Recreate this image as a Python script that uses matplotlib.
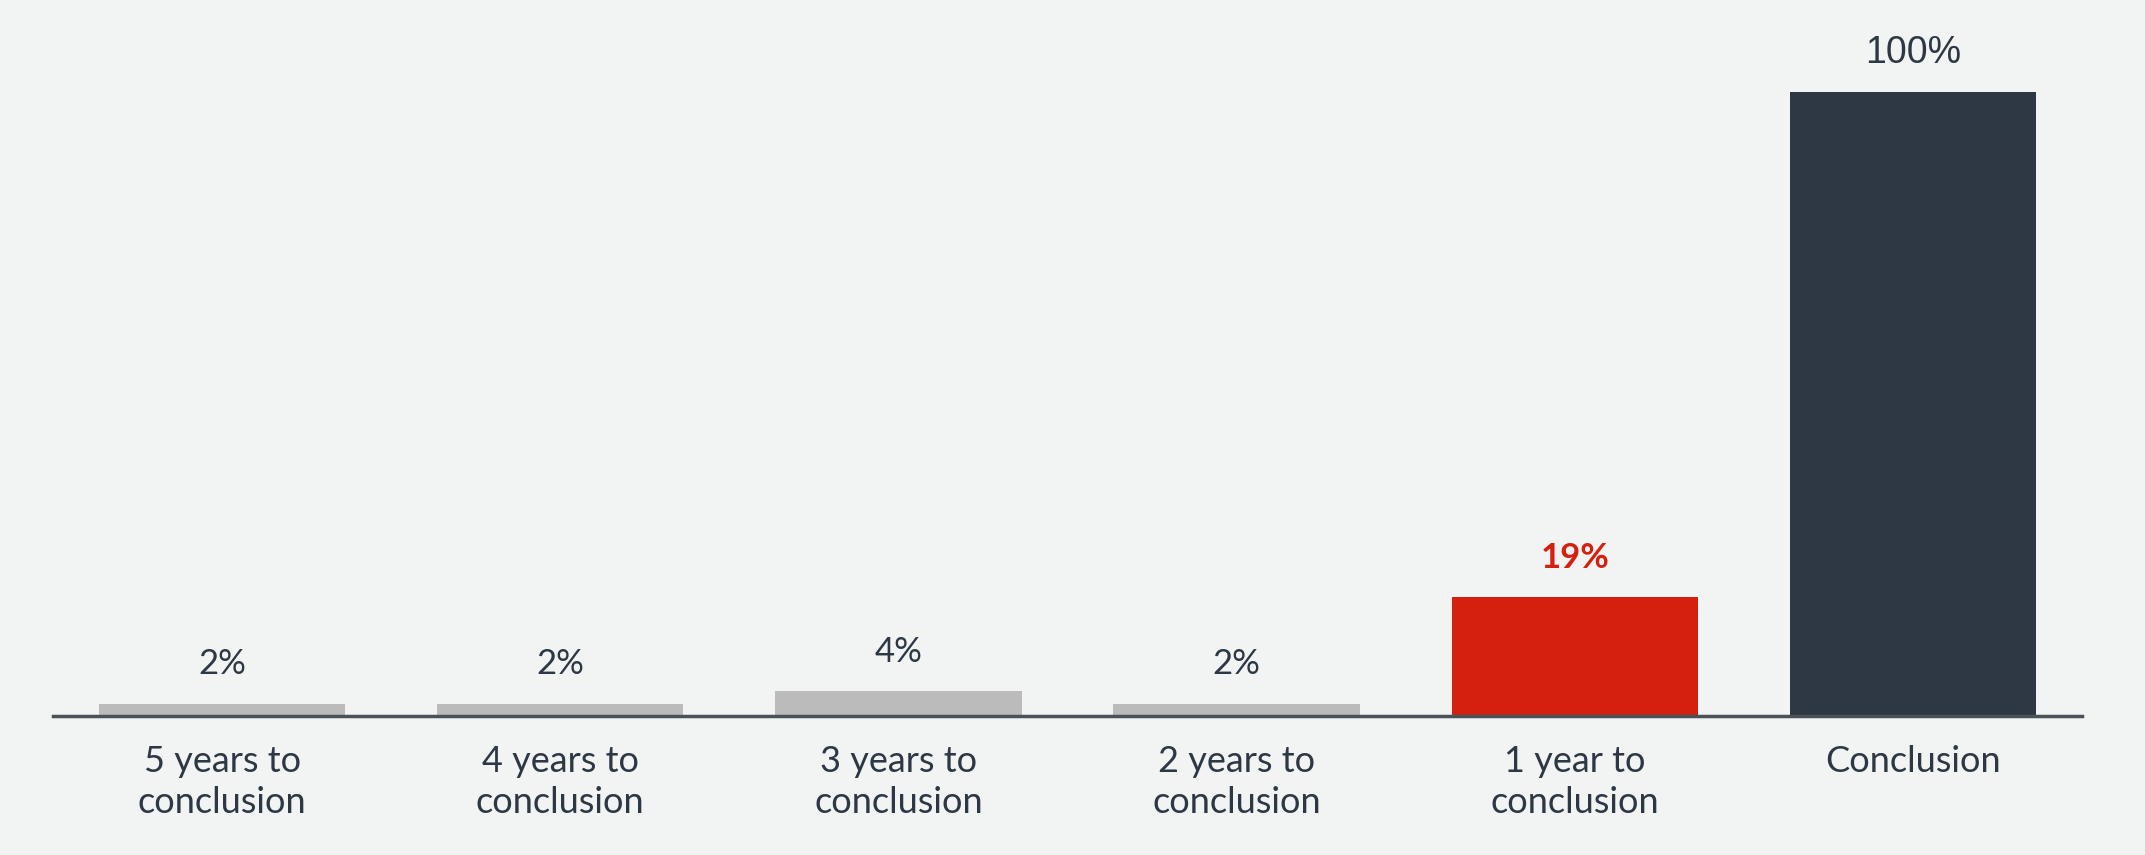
import matplotlib
matplotlib.use("Agg")
import matplotlib.pyplot as plt

categories = ["5 years to\nconclusion", "4 years to\nconclusion", "3 years to\nconclusion",
              "2 years to\nconclusion", "1 year to\nconclusion", "Conclusion"]
values = [2, 2, 4, 2, 19, 100]
labels = ["2%", "2%", "4%", "2%", "19%", "100%"]

BG = "#f2f4f4"
DARK = "#2d3844"
GRAY = "#bbbbbb"
RED = "#d52010"
colors = [GRAY, GRAY, GRAY, GRAY, RED, DARK]

fig = plt.figure(figsize=(21.45, 8.55), dpi=100, facecolor=BG)
ax = fig.add_axes([53 / 2145, (855 - 716) / 855, 2029 / 2145, 624 / 855])
ax.set_facecolor(BG)

x = list(range(len(values)))
ax.bar(x, values, width=0.728, color=colors, zorder=2)
ax.set_xlim(-0.5, 5.5)
ax.set_ylim(0, 100)

for s in ["top", "right", "left"]:
    ax.spines[s].set_visible(False)
ax.spines["bottom"].set_color("#4a5258")
ax.spines["bottom"].set_linewidth(2.5)
ax.spines["bottom"].set_zorder(3)
ax.set_yticks([])
ax.set_xticks(x)
ax.set_xticklabels(categories, fontsize=26, color=DARK, family=["Lato", "DejaVu Sans"],
                   linespacing=1.3)
ax.tick_params(axis="x", length=0, pad=21)

for i, (v, lab) in enumerate(zip(values, labels)):
    if i == 4:
        kw = dict(color=RED, fontweight="bold", family=["Lato", "DejaVu Sans"], fontsize=25)
    elif i == 5:
        kw = dict(color=DARK, family=["Liberation Sans Narrow", "Liberation Sans", "DejaVu Sans"], fontsize=27)
    else:
        kw = dict(color=DARK, family=["Lato", "DejaVu Sans"], fontsize=25)
    ax.annotate(lab, (i, v), xytext=(0, 21), textcoords="offset points",
                ha="center", va="baseline", clip_on=False, **kw)

fig.savefig("out.png", dpi=100, facecolor=BG)
